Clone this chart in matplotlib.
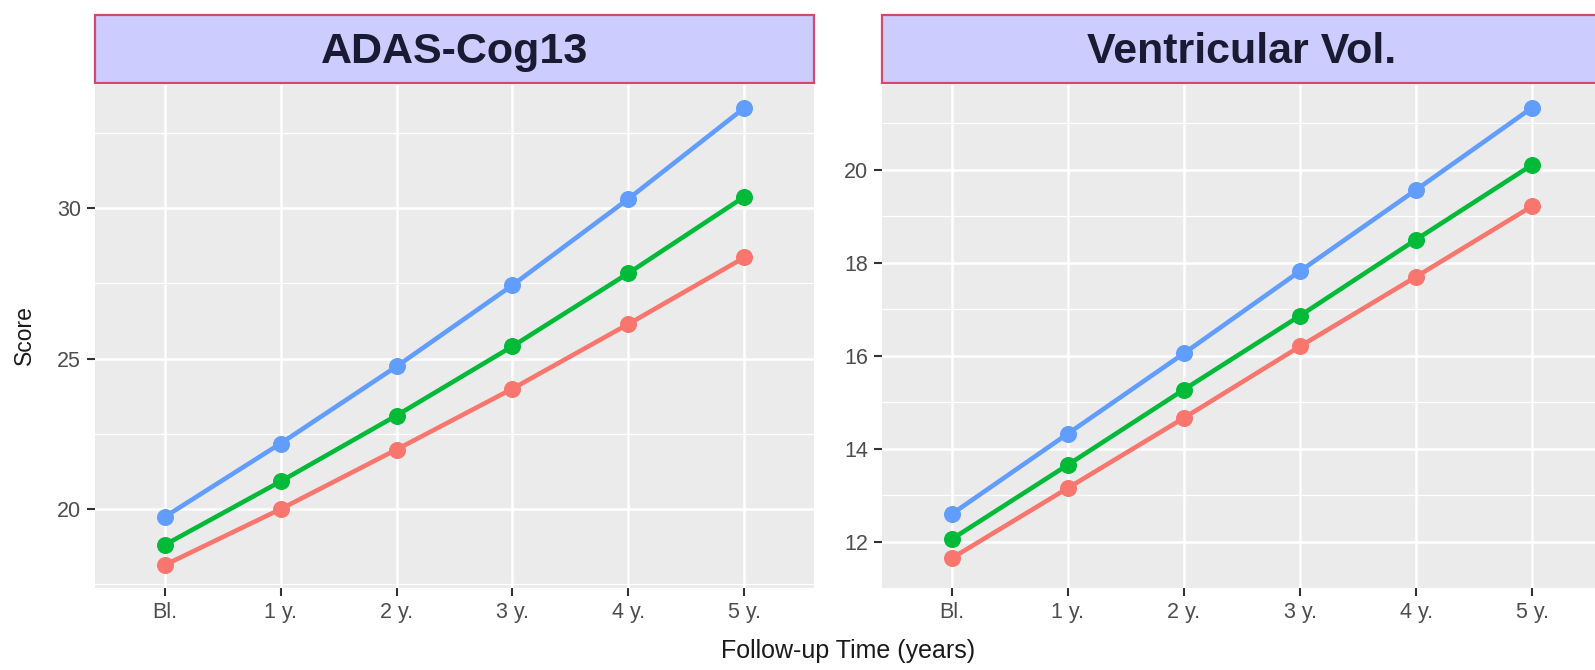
import matplotlib.pyplot as plt
from matplotlib.patches import Rectangle

plt.rcParams['font.family'] = ['Liberation Sans', 'DejaVu Sans']

# data
time_labels = ["Bl.", "1 y.", "2 y.", "3 y.", "4 y.", "5 y."]

adas_red = [18.14, 20.0, 21.98, 24.0, 26.15, 28.36]
adas_green = [18.81, 20.92, 23.11, 25.41, 27.84, 30.38]
adas_blue = [19.74, 22.18, 24.74, 27.44, 30.31, 33.33]

vent_red = [11.64, 13.15, 14.66, 16.2, 17.7, 19.22]
vent_green = [12.05, 13.65, 15.27, 16.86, 18.5, 20.11]
vent_blue = [12.59, 14.32, 16.05, 17.82, 19.57, 21.34]

panels = [
    ("ADAS-Cog13", [adas_red, adas_green, adas_blue], [20, 25, 30], [17.5, 22.5, 27.5, 32.5]),
    ("Ventricular Vol.", [vent_red, vent_green, vent_blue], [12, 14, 16, 18, 20], [11, 13, 15, 17, 19, 21]),
]
colors = ["#F8766D", "#00BA38", "#619CFF"]

W, H = 1595, 670
fig = plt.figure(figsize=(W / 100, H / 100), dpi=100)

# panel boxes in pixels: (left, right); the right one runs off the image like the reference
boxes = [(95, 814), (882, 1602)]
top, bottom = 85, 588
strip_top, strip_bot = 15, 83

for (title, series, majors, minors), (x0, x1) in zip(panels, boxes):
    ax = fig.add_axes([x0 / W, 1 - bottom / H, (x1 - x0) / W, (bottom - top) / H])
    ax.set_facecolor("#EBEBEB")
    for s in ax.spines.values():
        s.set_visible(False)
    xs = list(range(len(time_labels)))
    for ys, c in zip(series, colors):
        ax.plot(xs, ys, color=c, lw=3.3, zorder=3, solid_capstyle="round")
    for ys, c in zip(series, colors):
        ax.scatter(xs, ys, s=150, color=c, zorder=4, linewidths=0)
    allv = [v for ys in series for v in ys]
    lo, hi = min(allv), max(allv)
    pad = (hi - lo) * 0.05
    ax.set_ylim(lo - pad, hi + pad)
    ax.set_xlim(-0.6, len(xs) - 0.4)
    ax.set_xticks(xs)
    ax.set_xticklabels(time_labels)
    ax.set_yticks(majors)
    ax.set_yticks(minors, minor=True)
    ax.grid(which="major", color="white", lw=1.8, zorder=0)
    ax.grid(which="minor", axis="y", color="white", lw=0.9, zorder=0)
    ax.set_axisbelow(True)
    ax.tick_params(which="major", length=6, width=1.5, color="#333333",
                   labelsize=15.5, labelcolor="#4D4D4D", pad=4)
    ax.tick_params(which="minor", length=0)

    # strip on top
    sax = fig.add_axes([x0 / W, 1 - strip_bot / H, (x1 - x0) / W, (strip_bot - strip_top) / H])
    sax.set_xlim(0, 1)
    sax.set_ylim(0, 1)
    sax.axis("off")
    sax.add_patch(Rectangle((0, 0), 1, 1, facecolor="#CCCCFF", edgecolor="#D04A6A",
                            lw=1.6, transform=sax.transAxes, clip_on=False))
    sax.text(0.5, 0.45, title, ha="center", va="center", fontsize=31,
             fontweight="bold", color="#1A1A33")

fig.text(848 / W, 1 - 658 / H, "Follow-up Time (years)", ha="center", va="baseline",
         fontsize=18, color="#1A1A1A")
fig.text(24 / W, 1 - 335 / H, "Score", ha="center", va="center", rotation=90,
         fontsize=16.5, color="#1A1A1A")

fig.savefig("out.png", dpi=100, facecolor="white")
